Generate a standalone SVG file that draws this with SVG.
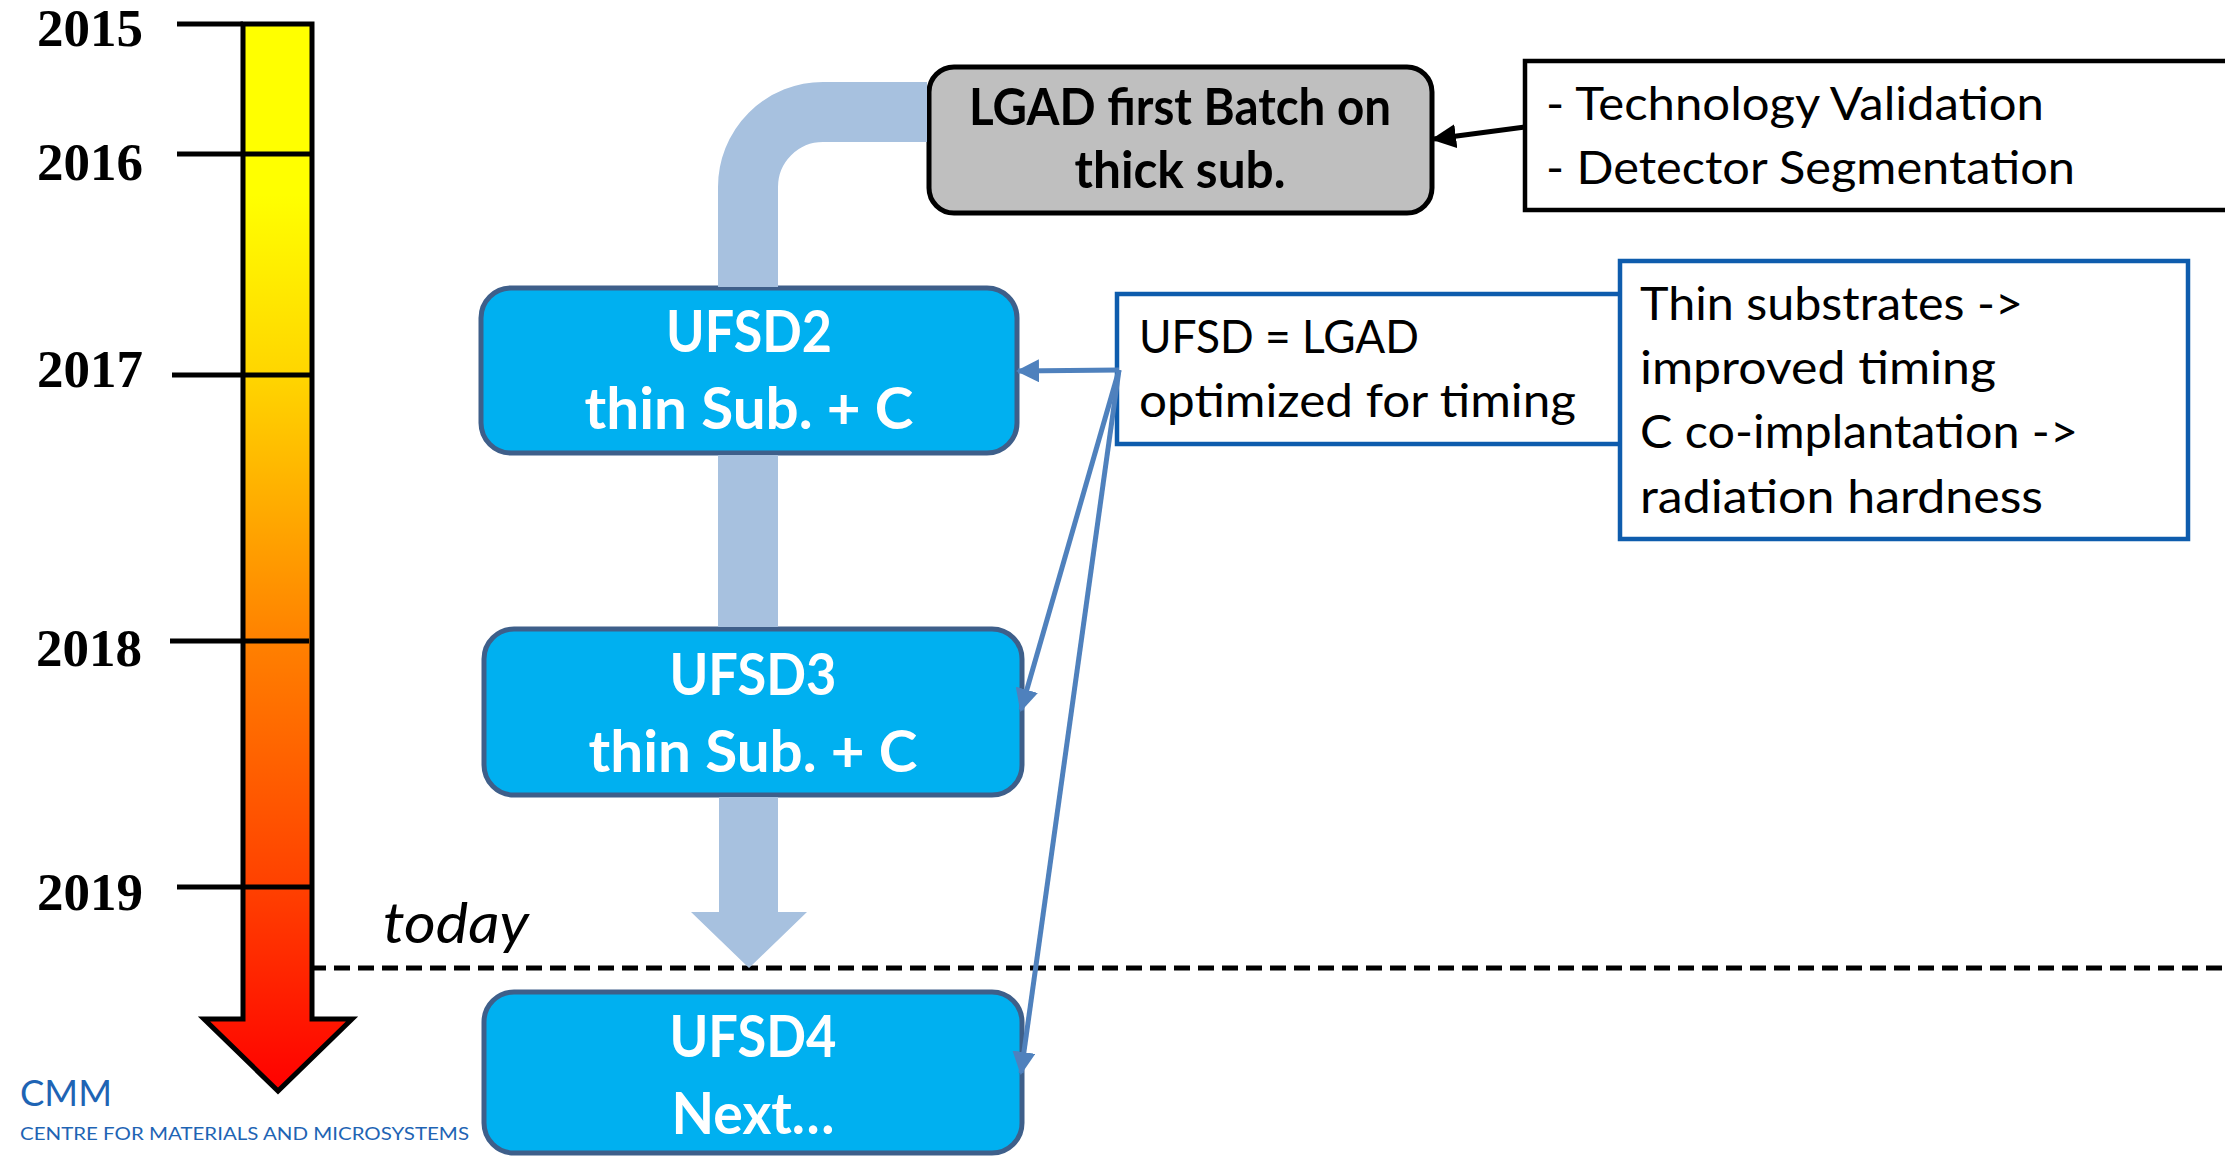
<svg xmlns="http://www.w3.org/2000/svg" width="2225" height="1156" viewBox="0 0 2225 1156">
<style>
.yr{font-family:"Liberation Serif","Times New Roman",serif;font-weight:bold;font-size:53px;fill:#000}
.tick{stroke:#000;stroke-width:5;fill:none}
.cal{font-family:Lato,"Open Sans",sans-serif}
.ufsd rect{fill:#00B0F0;stroke:#3E5F8A;stroke-width:5}
.ufsd text{font-family:Lato,"Open Sans",sans-serif;font-weight:bold;font-size:57px;fill:#fff;text-anchor:middle}
.note{font-family:Lato,"Open Sans",sans-serif;font-size:46px;fill:#000}
.band{fill:none;stroke:#A7C1DF;stroke-width:60}
.blue{fill:none;stroke:#4F81BD;stroke-width:5;marker-end:url(#hb)}
</style>
<defs>
<linearGradient id="grad" gradientUnits="userSpaceOnUse" x1="0" y1="24" x2="0" y2="1092">
<stop offset="0" stop-color="#FFFF00"/>
<stop offset="0.16" stop-color="#FFFF00"/>
<stop offset="0.33" stop-color="#FFD500"/>
<stop offset="0.58" stop-color="#FF8000"/>
<stop offset="0.81" stop-color="#FF4000"/>
<stop offset="1" stop-color="#FF0000"/>
</linearGradient>
<marker id="hb" viewBox="0 0 23 23" refX="21" refY="11.5" markerWidth="23" markerHeight="23" markerUnits="userSpaceOnUse" orient="auto">
<path d="M0,0 L23,11.5 L0,23 z" fill="#4F81BD"/>
</marker>
<marker id="hk" viewBox="0 0 25 24" refX="22" refY="12" markerWidth="25" markerHeight="24" markerUnits="userSpaceOnUse" orient="auto">
<path d="M0,0 L25,12 L0,24 z" fill="#000"/>
</marker>
</defs>
<rect width="2225" height="1156" fill="#fff"/>

<g id="timeline">
<polygon points="243,24 312,24 312,1019 352,1019 278,1091 204,1019 243,1019" fill="url(#grad)" stroke="#000" stroke-width="5" stroke-linejoin="miter"/>
<line class="tick" x1="177" y1="24" x2="243" y2="24"/>
<line class="tick" x1="177" y1="154" x2="312" y2="154"/>
<line class="tick" x1="172" y1="375" x2="312" y2="375"/>
<line class="tick" x1="170" y1="641" x2="309" y2="641"/>
<line class="tick" x1="177" y1="887" x2="312" y2="887"/>
<text class="yr" x="37" y="46">2015</text>
<text class="yr" x="37" y="180">2016</text>
<text class="yr" x="37" y="387">2017</text>
<text class="yr" x="36" y="666">2018</text>
<text class="yr" x="37" y="910">2019</text>
</g>

<g id="lgad">
<rect x="929" y="67" width="503" height="146" rx="25" fill="#BFBFBF" stroke="#000" stroke-width="5"/>
<text class="cal" x="1180" y="125" font-size="51" font-weight="bold" text-anchor="middle" textLength="422" lengthAdjust="spacingAndGlyphs">LGAD first Batch on</text>
<text class="cal" x="1180" y="188" font-size="51" font-weight="bold" text-anchor="middle" textLength="211" lengthAdjust="spacingAndGlyphs">thick sub.</text>
</g>

<g id="tech-note">
<rect x="1525" y="61" width="760" height="149" fill="#fff" stroke="#000" stroke-width="4.5"/>
<text class="note" x="1546" y="120" textLength="498" lengthAdjust="spacingAndGlyphs">- Technology Validation</text>
<text class="note" x="1546" y="184" textLength="529" lengthAdjust="spacingAndGlyphs">- Detector Segmentation</text>
</g>

<g id="ufsd2" class="ufsd">
<rect x="481" y="288" width="536" height="165" rx="30"/>
<text x="749" y="352" textLength="166" lengthAdjust="spacingAndGlyphs">UFSD2</text>
<text x="749" y="429" textLength="329" lengthAdjust="spacingAndGlyphs">thin Sub. + C</text>
</g>

<g id="ufsd3" class="ufsd">
<rect x="484" y="629" width="538" height="166" rx="30"/>
<text x="753" y="695" textLength="167" lengthAdjust="spacingAndGlyphs">UFSD3</text>
<text x="753" y="772" textLength="329" lengthAdjust="spacingAndGlyphs">thin Sub. + C</text>
</g>

<g id="ufsd4" class="ufsd">
<rect x="484" y="992" width="538" height="161" rx="30"/>
<text x="753" y="1057" textLength="167" lengthAdjust="spacingAndGlyphs">UFSD4</text>
<text x="753" y="1134" textLength="163" lengthAdjust="spacingAndGlyphs">Next…</text>
</g>

<g id="ufsd-def">
<rect x="1117" y="294" width="504" height="150" fill="#fff" stroke="#0E5CAD" stroke-width="4.5"/>
<text class="note" x="1139" y="353" textLength="280" lengthAdjust="spacingAndGlyphs">UFSD = LGAD</text>
<text class="note" x="1139" y="417" textLength="437" lengthAdjust="spacingAndGlyphs">optimized for timing</text>
</g>

<g id="thin-note">
<rect x="1620" y="261" width="568" height="278" fill="#fff" stroke="#0E5CAD" stroke-width="4.5"/>
<text class="note" x="1640" y="320" textLength="383" lengthAdjust="spacingAndGlyphs">Thin substrates -&gt;</text>
<text class="note" x="1640" y="384" textLength="356" lengthAdjust="spacingAndGlyphs">improved timing</text>
<text class="note" x="1640" y="448" textLength="438" lengthAdjust="spacingAndGlyphs">C co-implantation -&gt;</text>
<text class="note" x="1640" y="513" textLength="403" lengthAdjust="spacingAndGlyphs">radiation hardness</text>
</g>

<g id="today">
<line x1="310" y1="968" x2="2225" y2="968" stroke="#000" stroke-width="5" stroke-dasharray="16 8"/>
<text class="cal" x="383" y="943" font-size="57" font-style="italic" textLength="146" lengthAdjust="spacingAndGlyphs">today</text>
</g>

<g id="connectors">
<path class="band" d="M927,112 H823 A75,75 0 0 0 748,187 V287"/>
<path class="band" d="M748,455 V627"/>
<polygon points="719,797 778,797 778,912 807,912 749,968 691,912 719,912" fill="#A7C1DF"/>
<line x1="1525" y1="127" x2="1434" y2="139" stroke="#000" stroke-width="5" marker-end="url(#hk)"/>
<line class="blue" x1="1119" y1="370" x2="1018" y2="371"/>
<line class="blue" x1="1119" y1="370" x2="1021" y2="710"/>
<line class="blue" x1="1119" y1="370" x2="1021" y2="1073"/>
</g>

<g id="logo">
<text class="cal" x="20" y="1106" font-size="36" fill="#1E64B4" textLength="92" lengthAdjust="spacingAndGlyphs">CMM</text>
<text class="cal" x="20" y="1140" font-size="18" fill="#1E64B4" textLength="449" lengthAdjust="spacingAndGlyphs">CENTRE FOR MATERIALS AND MICROSYSTEMS</text>
</g>
</svg>
